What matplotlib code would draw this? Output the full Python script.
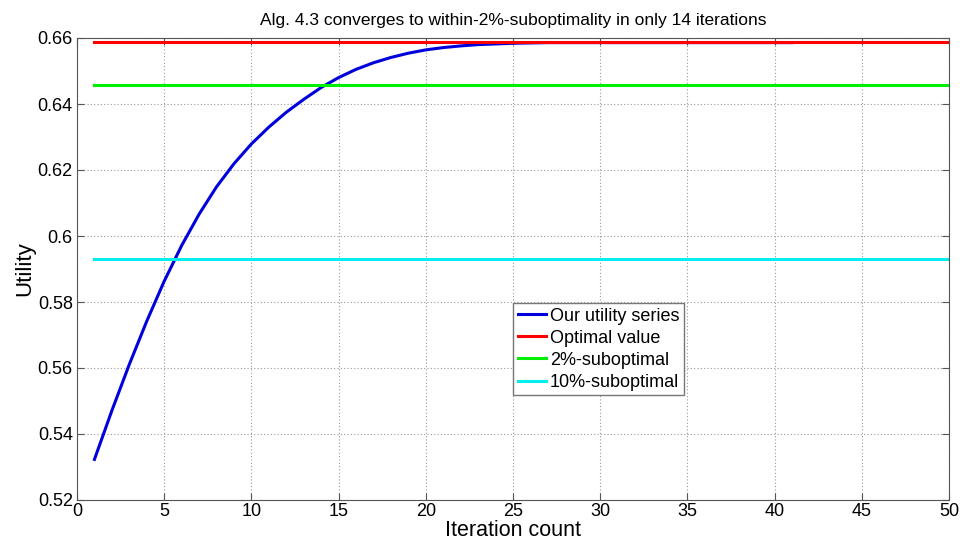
import matplotlib
matplotlib.use("Agg")
import matplotlib.pyplot as plt

# Utility per iteration
iterations = list(range(1, 42))
utility = [
    0.5323, 0.5471, 0.5611, 0.5742, 0.5863, 0.5971, 0.6066, 0.6149, 0.6219, 0.6279,
    0.6330, 0.6375, 0.6414, 0.6450, 0.6480, 0.6505, 0.6525, 0.6541, 0.6554, 0.6564,
    0.6571, 0.6576, 0.6580, 0.6582, 0.6584, 0.6585, 0.6586, 0.6586, 0.6586, 0.6586,
    0.6586, 0.6586, 0.6586, 0.6586, 0.6586, 0.6586, 0.6586, 0.6586, 0.6586, 0.6586,
    0.6586,
]
ref_x = [1, 50]
optimal = 0.6589
subopt_2 = 0.6457
subopt_10 = 0.5930

plt.rcParams["font.family"] = ["Liberation Sans", "DejaVu Sans"]

fig = plt.figure(figsize=(9.66, 5.47), dpi=100)
ax = fig.add_axes([77 / 966, 1 - 500 / 547, 872 / 966, 462 / 547])

ax.plot(iterations, utility, color="#0000dd", lw=2.2, label="Our utility series")
ax.plot(ref_x, [optimal, optimal], color="#ff0000", lw=2.2, label="Optimal value")
ax.plot(ref_x, [subopt_2, subopt_2], color="#00ee00", lw=2.2, label="2%-suboptimal")
ax.plot(ref_x, [subopt_10, subopt_10], color="#00eeee", lw=2.2, label="10%-suboptimal")

ax.set_xlim(0, 50)
ax.set_ylim(0.52, 0.66)
ax.set_xticks(range(0, 51, 5))
ax.set_yticks([0.52, 0.54, 0.56, 0.58, 0.6, 0.62, 0.64, 0.66])
ax.set_yticklabels(["0.52", "0.54", "0.56", "0.58", "0.6", "0.62", "0.64", "0.66"])
ax.tick_params(direction="in", labelsize=13, length=5, color="#555555",
               top=True, right=True, pad=3)
ax.tick_params(axis="x", pad=2)
ax.grid(True, linestyle=(0, (1, 2)), color="#999999", lw=0.8)
for s in ax.spines.values():
    s.set_color("#555555")

ax.set_title("Alg. 4.3 converges to within-2%-suboptimality in only 14 iterations",
             fontsize=12.5, pad=9)
ax.set_xlabel("Iteration count", fontsize=15.5, labelpad=0)
ax.set_ylabel("Utility", fontsize=16, labelpad=2)

leg = ax.legend(loc="upper left", bbox_to_anchor=(0.5, 0.426), fontsize=13,
                handlelength=1.6, handletextpad=0.2, labelspacing=0.28,
                borderpad=0.25, borderaxespad=0, fancybox=False, framealpha=1)
leg.get_frame().set_edgecolor("#777777")
leg.get_frame().set_linewidth(1.0)

fig.savefig("out.png", dpi=100)
